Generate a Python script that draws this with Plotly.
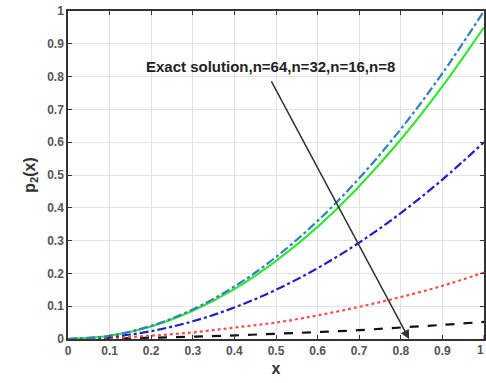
import plotly.graph_objects as go

x_vals = [0, 0.1, 0.2, 0.3, 0.4, 0.5, 0.6, 0.7, 0.8, 0.9, 1.0]
exact = [0, 0.01, 0.04, 0.09, 0.16, 0.25, 0.36, 0.49, 0.64, 0.81, 1.0]
n64 = [0, 0.0095, 0.038, 0.086, 0.152, 0.238, 0.342, 0.466, 0.608, 0.77, 0.95]
n32 = [0, 0.006, 0.024, 0.054, 0.096, 0.15, 0.216, 0.294, 0.384, 0.486, 0.6]
n16 = [0, 0.003, 0.01, 0.02, 0.035, 0.05, 0.072, 0.098, 0.128, 0.162, 0.203]
n8 = [0, 0.001, 0.004, 0.007, 0.011, 0.016, 0.021, 0.027, 0.035, 0.043, 0.052]
tick_vals = [0, 0.1, 0.2, 0.3, 0.4, 0.5, 0.6, 0.7, 0.8, 0.9, 1]
tick_text = ["0", "0.1", "0.2", "0.3", "0.4", "0.5", "0.6", "0.7", "0.8", "0.9", "1"]

tick_font = dict(family="Arial, Liberation Sans", size=12, color="#555555", weight="bold")

fig = go.Figure()
series = [
    (n8, "#111111", "dash", "n=8"),
    (n16, "#ff4d4d", "dot", "n=16"),
    (n32, "#2020c0", "dashdot", "n=32"),
    (n64, "#33e633", "solid", "n=64"),
    (exact, "#2f7fbf", "dashdot", "Exact"),
]
for ys, col, dash, name in series:
    fig.add_trace(go.Scatter(x=x_vals, y=ys, mode="lines", name=name,
                             line=dict(color=col, dash=dash, width=2.2, shape="spline")))

axis_common = dict(
    range=[0, 1],
    showgrid=True, gridcolor="#e3e3e3", gridwidth=1,
    showline=True, linecolor="#333333", linewidth=1.5, mirror="ticks",
    ticks="inside", ticklen=4, tickcolor="#333333",
    tickfont=tick_font,
    zeroline=False, automargin=False,
)
fig.update_xaxes(**axis_common, tickvals=tick_vals[:-1], ticktext=tick_text[:-1],
                 title=dict(text="x", font=dict(family="Arial, Liberation Sans", size=16, color="#333333", weight="bold"), standoff=6))
fig.update_yaxes(**axis_common, tickvals=tick_vals, ticktext=tick_text,
                 title=dict(text="p<sub>2</sub>(x)", font=dict(family="Arial, Liberation Sans", size=16, color="#333333", weight="bold"), standoff=8))

# last x tick (at x=1) drawn at the page edge, as in the reference
fig.add_annotation(x=tick_vals[-1], y=0, xref="x", yref="paper", text=tick_text[-1],
                   showarrow=False, xanchor="right", xshift=2, yanchor="top", yshift=-2, font=tick_font)
fig.add_shape(type="line", x0=1, x1=1, y0=0, y1=0.012, xref="x", yref="paper",
              line=dict(color="#333333", width=1))

fig.add_annotation(x=0.487, y=0.83, xref="x", yref="y", text="<b>Exact solution,n=64,n=32,n=16,n=8</b>",
                   showarrow=False, font=dict(family="Arial, Liberation Sans", size=15, color="#222222"))
fig.add_annotation(x=0.82, y=0.0, ax=0.487, ay=0.79, xref="x", yref="y", axref="x", ayref="y",
                   text="", showarrow=True, arrowhead=2, arrowsize=1.2, arrowwidth=1.5, arrowcolor="#333333")

fig.update_layout(
    width=486, height=383,
    margin=dict(l=68, r=2, t=11, b=44),
    paper_bgcolor="white", plot_bgcolor="white",
    showlegend=False,
)
fig.write_html("out.html")
